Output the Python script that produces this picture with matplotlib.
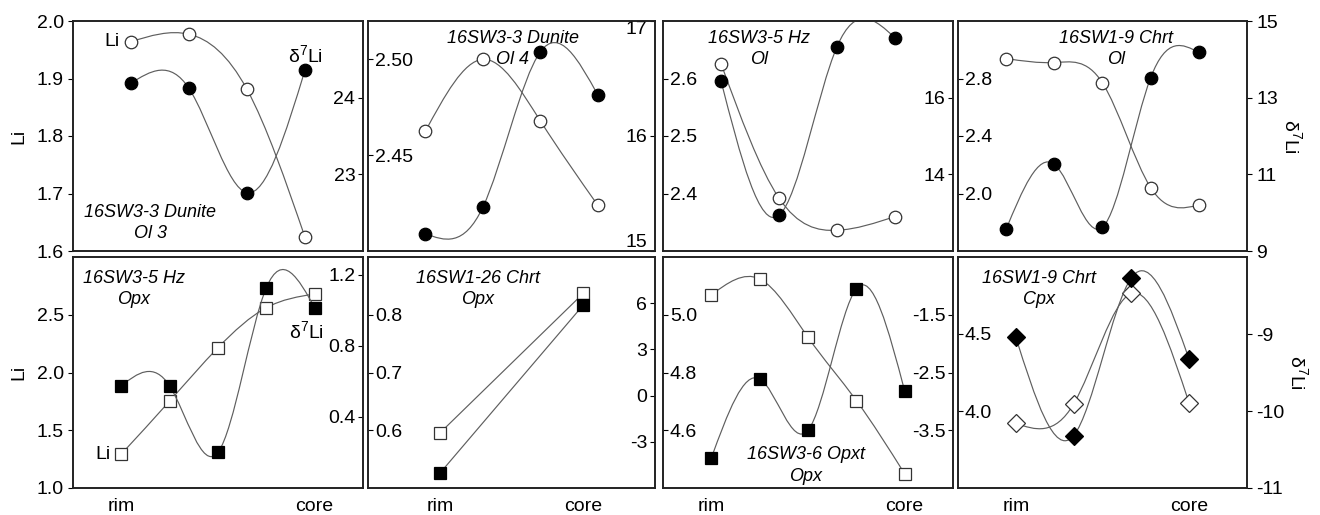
import numpy as np
import matplotlib
matplotlib.use('Agg')
import matplotlib.pyplot as plt
from matplotlib.path import Path
from matplotlib.patches import PathPatch
from matplotlib.ticker import FormatStrFormatter

plt.rcParams['font.family'] = ['Liberation Sans', 'DejaVu Sans']
plt.rcParams['mathtext.fontset'] = 'custom'
plt.rcParams['mathtext.rm'] = 'Liberation Sans'
plt.rcParams['mathtext.it'] = 'Liberation Sans:italic'
plt.rcParams['axes.unicode_minus'] = False

# ---------------- data ----------------
titles = ["16SW3-3 Dunite\nOl 3", "16SW3-3 Dunite\nOl 4", "16SW3-5 Hz\nOl", "16SW1-9 Chrt\nOl",
          "16SW3-5 Hz\nOpx", "16SW1-26 Chrt\nOpx", "16SW3-6 Opxt\nOpx", "16SW1-9 Chrt\nCpx"]
markers = ['o', 'o', 'o', 'o', 's', 's', 's', 'D']

li_A = [1.964, 1.977, 1.881, 1.624]
d7_A = [24.19, 24.12, 22.76, 24.36]
li_B = [2.4625, 2.500, 2.468, 2.424]
d7_B = [15.15, 15.38, 16.73, 16.36]
li_C = [2.626, 2.392, 2.336, 2.360]
d7_C = [16.44, 12.93, 17.33, 17.56]
li_D = [2.939, 2.911, 2.769, 2.041, 1.920]
d7_D = [9.57, 11.26, 9.62, 13.52, 14.18]
li_E = [1.294, 1.753, 2.215, 2.561, 2.680]
d7_E = [0.576, 0.574, 0.201, 1.127, 1.015]
li_F = [0.595, 0.837]
d7_F = [-5.05, 5.88]
li_G = [5.069, 5.124, 4.922, 4.703, 4.449]
d7_G = [-3.98, -2.61, -3.50, -1.05, -2.82]
li_H = [3.92, 4.045, 4.764, 4.05]
d7_H = [-9.04, -10.32, -8.27, -9.33]

li_series = [li_A, li_B, li_C, li_D, li_E, li_F, li_G, li_H]
d7_series = [d7_A, d7_B, d7_C, d7_D, d7_E, d7_F, d7_G, d7_H]

li_lims = [(1.6, 2.0), (2.40, 2.52), (2.3, 2.7), (1.6, 3.2), (1.0, 3.0), (0.5, 0.9), (4.4, 5.2), (3.5, 5.0)]
li_ticks = [[1.6, 1.7, 1.8, 1.9, 2.0], [2.45, 2.50], [2.4, 2.5, 2.6], [2.0, 2.4, 2.8],
            [1.0, 1.5, 2.0, 2.5], [0.6, 0.7, 0.8], [4.6, 4.8, 5.0], [4.0, 4.5]]
li_fmt = ['%.1f', '%.2f', '%.1f', '%.1f', '%.1f', '%.1f', '%.1f', '%.1f']
d7_lims = [(22, 25), (15, 17), (12, 18), (9, 15), (0, 1.3), (-6, 9), (-4.5, -0.5), (-11, -8)]
d7_ticks = [[23, 24], [15, 16, 17], [14, 16], [9, 11, 13, 15], [0.4, 0.8, 1.2],
            [-3, 0, 3, 6], [-3.5, -2.5, -1.5], [-11, -10, -9]]
d7_fmt = ['%d', '%d', '%d', '%d', '%.1f', '%d', '%.1f', '%d']
x_labels = ["rim", "core"]

# ---------------- layout (pixels) ----------------
W, H = 1320, 515
lefts = [73, 368, 663, 958]
widths = [290, 287, 290, 289]
tops = [21, 257]
heights = [230, 231]
title_pos = [(0.266, 0.122), (0.505, 0.878), (0.331, 0.878), (0.547, 0.878),
             (0.21, 0.861), (0.382, 0.861), (0.493, 0.097), (0.28, 0.861)]

LINE_C = '#5e5e5e'
EDGE_C = '#222222'
FS = 14
D7 = 'δ$^{7}$Li'


def spline_path(x, y):
    x = np.asarray(x, float)
    y = np.asarray(y, float)
    n = len(x)
    if n < 3:
        return Path(list(zip(x, y)), [Path.MOVETO] + [Path.LINETO] * (n - 1))
    h = np.diff(x)
    A = np.zeros((n, n))
    b = np.zeros(n)
    A[0, 0] = 1
    A[-1, -1] = 1
    for i in range(1, n - 1):
        A[i, i - 1] = h[i - 1]
        A[i, i] = 2 * (h[i - 1] + h[i])
        A[i, i + 1] = h[i]
        b[i] = 6 * ((y[i + 1] - y[i]) / h[i] - (y[i] - y[i - 1]) / h[i - 1])
    M = np.linalg.solve(A, b)
    d = np.empty(n)
    for i in range(n - 1):
        d[i] = (y[i + 1] - y[i]) / h[i] - h[i] * (2 * M[i] + M[i + 1]) / 6
    d[-1] = (y[-1] - y[-2]) / h[-1] + h[-1] * (M[-2] + 2 * M[-1]) / 6
    verts = [(x[0], y[0])]
    codes = [Path.MOVETO]
    for i in range(n - 1):
        verts += [(x[i] + h[i] / 3, y[i] + h[i] * d[i] / 3),
                  (x[i + 1] - h[i] / 3, y[i + 1] - h[i] * d[i + 1] / 3),
                  (x[i + 1], y[i + 1])]
        codes += [Path.CURVE4] * 3
    return Path(verts, codes)


fig = plt.figure(figsize=(W / 100, H / 100), dpi=100)

for k in range(8):
    r, c = divmod(k, 4)
    l = lefts[c] / W
    w = widths[c] / W
    b = 1 - (tops[r] + heights[r]) / H
    hgt = heights[r] / H
    ax = fig.add_axes([l, b, w, hgt])
    ax2 = ax.twinx()
    li = li_series[k]
    d7 = d7_series[k]
    n = len(li)
    x = np.arange(n)
    margin = 1.0 if n > 2 else 0.5
    ax.set_xlim(-margin, n - 1 + margin)
    ax.set_ylim(*li_lims[k])
    ax2.set_ylim(*d7_lims[k])

    # curves + markers
    ax.add_patch(PathPatch(spline_path(x, li), fill=False, edgecolor=LINE_C, lw=0.85, zorder=2))
    ax.plot(x, li, linestyle='none', marker=markers[k], ms=9, mfc='white', mec='#333333', mew=0.9, zorder=3)
    ax2.add_patch(PathPatch(spline_path(x, d7), fill=False, edgecolor=LINE_C, lw=0.85, zorder=2))
    ax2.plot(x, d7, linestyle='none', marker=markers[k], ms=9, mfc='black', mec='black', mew=0.9, zorder=3)

    # spines
    for a in (ax, ax2):
        for s in a.spines.values():
            s.set_linewidth(1.2)
            s.set_color(EDGE_C)

    # y ticks
    ax.set_yticks(li_ticks[k])
    ax.yaxis.set_major_formatter(FormatStrFormatter(li_fmt[k]))
    ax2.set_yticks(d7_ticks[k])
    ax2.yaxis.set_major_formatter(FormatStrFormatter(d7_fmt[k]))

    if c == 0:
        ax.tick_params(axis='y', direction='out', length=3.5, width=0.8, labelsize=FS, pad=3)
        ax.set_ylabel('Li', fontsize=FS, labelpad=7)
    else:
        ax.tick_params(axis='y', direction='in', length=3.5, width=0.8, labelsize=FS, pad=-5)
        for t in ax.get_yticklabels():
            t.set_ha('left')
    if c == 3:
        ax2.tick_params(axis='y', direction='out', length=3.5, width=0.8, labelsize=FS, pad=3)
        ax2.set_ylabel(D7, fontsize=FS, rotation=270, labelpad=18)
    else:
        ax2.tick_params(axis='y', direction='in', length=3.5, width=0.8, labelsize=FS, pad=-5.5)
        labs = ax2.get_yticklabels()
        tv = d7_ticks[k]
        lo, hi = d7_lims[k]
        for t, v in zip(labs, tv):
            t.set_ha('right')
            if np.isclose(v, hi):
                t.set_va('top')
            elif np.isclose(v, lo):
                t.set_va('bottom')

    # x ticks
    if r == 1:
        ax.set_xticks([0, n - 1])
        ax.set_xticklabels(x_labels, fontsize=FS)
        ax.tick_params(axis='x', length=0, pad=7)
    else:
        ax.set_xticks([])

    ax.text(title_pos[k][0], title_pos[k][1], titles[k], transform=ax.transAxes,
            ha='center', va='center', fontsize=13, style='italic', linespacing=1.35)

    # series labels in the left panels
    if c == 0:
        ax.annotate('Li', (x[0], li[0]), xytext=(-8, 0), textcoords='offset points',
                    ha='right', va='center', fontsize=FS)
        if r == 0:
            ax2.annotate(D7, (x[-1], d7[-1]), xytext=(0, 11), textcoords='offset points',
                         ha='center', va='center', fontsize=FS)
        else:
            ax2.annotate(D7, (x[-1], d7[-1]), xytext=(-6, -17), textcoords='offset points',
                         ha='center', va='center', fontsize=FS)

fig.savefig('out.png', dpi=100)
